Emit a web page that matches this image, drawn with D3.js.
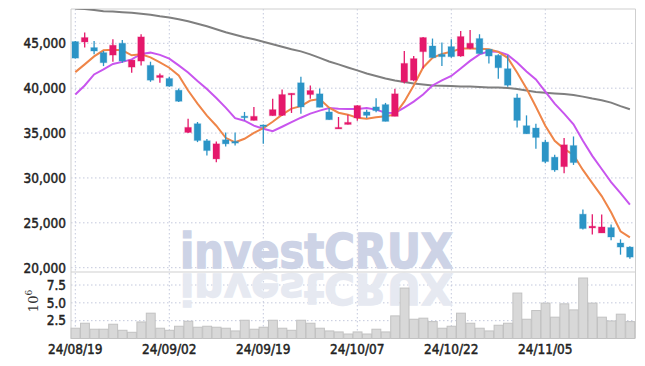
<!DOCTYPE html>
<html>
<head>
<meta charset="utf-8">
<title>investCRUX candles</title>
<script src="https://cdn.jsdelivr.net/npm/d3@7"></script>
<style>
  body { margin: 0; background: #fff; }
  .tick text { font-family: "DejaVu Sans Condensed", sans-serif; font-size: 13.5px; fill: #222; stroke: #222; stroke-width: 0.45px; }
</style>
</head>
<body>
<script>
// trading days (KRX)
var dates = ["24/08/19","24/08/20","24/08/21","24/08/22","24/08/23","24/08/26","24/08/27","24/08/28","24/08/29","24/08/30",
             "24/09/02","24/09/03","24/09/04","24/09/05","24/09/06","24/09/09","24/09/10","24/09/11","24/09/12","24/09/13",
             "24/09/19","24/09/20","24/09/23","24/09/24","24/09/25","24/09/26","24/09/27","24/09/30","24/10/02","24/10/04",
             "24/10/07","24/10/08","24/10/10","24/10/11","24/10/14","24/10/15","24/10/16","24/10/17","24/10/18","24/10/21",
             "24/10/22","24/10/23","24/10/24","24/10/25","24/10/28","24/10/29","24/10/30","24/10/31","24/11/01","24/11/04",
             "24/11/05","24/11/06","24/11/07","24/11/08","24/11/11","24/11/12","24/11/13","24/11/14","24/11/15","24/11/18"];
var tickDates = ["24/08/19","24/09/02","24/09/19","24/10/07","24/10/22","24/11/05"];

var open  = [45190,45150,44520,43960,43690,45000,42350,43020,42540,41190,
             41080,39770,35070,36040,34140,32120,34250,34060,36880,36410,
             35900,36940,36970,39290,40600,39290,39370,37350,35480,35960,
             36680,37350,37910,38170,36860,40710,40890,44070,44700,43770,
             44630,43580,44440,45530,44330,43660,42170,38920,35820,35560,
             33990,32310,31260,33610,25960,24430,23870,24470,22750,22300];
var high  = [45250,46200,45260,44140,45450,45370,43130,46010,42950,41640,
             41270,39960,36600,36230,34330,34060,35070,35070,37350,37910,
             35950,38810,39850,39430,41270,40300,39960,37800,36790,37050,
             38100,37610,38870,38360,39930,44140,43580,45700,45530,45080,
             45450,46380,46490,46010,44330,43770,43660,39370,36970,36040,
             34250,32570,34440,34620,26490,25960,25930,24810,23160,22380];
var low   = [43300,44520,43770,42460,42950,42840,41720,42540,40710,40600,
             40150,38470,35000,33990,32490,31750,33500,33610,36410,36410,
             33800,36940,36900,37240,37160,38810,37870,36490,35480,35960,
             36380,36680,37310,36300,36860,40520,40780,42200,43400,42460,
             43400,43510,44330,43850,42760,41050,40150,35630,34920,33240,
             31640,30700,30520,31450,24250,23690,23870,23050,21450,21000];
var close = [43350,45640,44140,42840,44780,43020,43130,45710,40890,41420,
             40220,38540,35630,34170,33050,33800,33800,33880,36770,36860,
             35740,37610,39290,39430,37910,39740,37870,36490,35630,36190,
             38060,36970,37500,36300,39370,42760,43290,45640,43400,43510,
             43510,45750,45000,43850,43580,42280,40330,36410,34920,34510,
             31820,30890,33690,31710,24360,24620,24540,23420,22300,21180];

// moving averages as drawn
var maShort = [41790,42650,43540,44220,44270,44220,43660,43770,43430,42870,
               42280,41420,39740,38280,36940,35820,34470,33970,34360,35030,
               35540,36260,37050,37720,38000,38620,38780,37830,37270,37050,
               36710,36600,36770,36880,37050,38500,40300,42310,43380,43820,
               44050,44410,44410,44380,44330,44050,43380,41750,39960,37940,
               35820,34140,33240,32570,30890,29430,27980,26180,24060,23380];
var maMid   = [39290,40300,41530,42090,42700,42930,43210,43820,43960,43710,
               43290,42540,41750,40800,39900,38900,37830,36660,36380,35820,
               35480,35200,35700,36210,36710,37160,37500,37780,37720,37690,
               37690,37780,37610,37270,37240,37830,38500,39290,40300,40860,
               41360,42200,43040,43770,44100,44050,43710,42870,41860,40970,
               39620,38280,37160,35980,34140,32460,31000,29540,28310,27020];
var maLong  = [48890,48810,48700,48580,48530,48470,48390,48300,48190,48020,
               47880,47690,47460,47180,46900,46570,46230,45950,45670,45450,
               45170,44890,44610,44330,44100,43770,43380,42980,42650,42310,
               41980,41640,41360,41080,40860,40690,40520,40410,40300,40260,
               40240,40180,40180,40130,40070,40070,40020,39900,39740,39570,
               39480,39400,39340,39250,39060,38840,38650,38390,38000,37660];

// volume, 10^6
var volume = [1.44,2.14,1.30,1.30,2.00,1.15,0.87,2.32,3.55,1.44,
              1.15,1.72,2.42,1.58,1.72,1.58,1.44,1.06,2.56,1.30,
              1.58,2.56,1.44,1.15,2.56,2.14,1.44,1.06,0.92,0.63,
              0.92,0.63,1.30,0.92,3.17,7.07,2.70,2.85,2.37,1.44,
              1.72,3.55,2.14,1.44,1.06,1.86,2.14,6.37,2.70,3.92,
              4.96,2.99,4.86,4.01,8.48,4.96,2.99,2.46,3.41,2.37];

var priceTicks = [20000,25000,30000,35000,40000,45000];
var volTicks = [2.5,5.0,7.5];

var w = 645, h = 366;
var plotLeft = 71, plotRight = 635.5, plotTop = 9, priceBottom = 272, volBottom = 338.5;
var upColor = "#e5186b", downColor = "#2b94c6";
var gridColor = "#c3c8dc", frameColor = "#cfcfcf";

var svg = d3.select("body").append("svg")
    .attr("width", w).attr("height", h);

var x = d3.scaleBand().domain(dates).range([70.6, 634.6]).padding(0);
var bw = x.bandwidth();
function cx(i) { return x(dates[i]) + bw / 2; }

var yP = d3.scaleLinear().domain([20000, 45000]).range([267.7, 43.3]);
var yV = d3.scaleLinear().domain([0, 7.5]).range([volBottom, 285]);

svg.append("clipPath").attr("id", "priceClip")
  .append("rect").attr("x", plotLeft).attr("y", plotTop)
  .attr("width", plotRight - plotLeft).attr("height", priceBottom - plotTop);

// grid
var grid = svg.append("g").attr("stroke", gridColor).attr("stroke-dasharray", "1.5,2.5").attr("stroke-width", 1);
priceTicks.forEach(function(v) {
  grid.append("line").attr("x1", plotLeft).attr("x2", plotRight).attr("y1", yP(v)).attr("y2", yP(v));
});
volTicks.forEach(function(v) {
  grid.append("line").attr("x1", plotLeft).attr("x2", plotRight).attr("y1", yV(v)).attr("y2", yV(v));
});
tickDates.forEach(function(d) {
  var xx = x(d) + bw / 2;
  grid.append("line").attr("x1", xx).attr("x2", xx).attr("y1", plotTop).attr("y2", volBottom);
});

// watermark + reflection
var wm = svg.append("g").attr("font-family", "DejaVu Sans, sans-serif").attr("font-weight", "bold").attr("font-size", 48);
wm.append("text").text("investCRUX")
  .attr("x", 180).attr("y", 268.3)
  .attr("textLength", 273).attr("lengthAdjust", "spacingAndGlyphs")
  .attr("fill", "#cdd3e6").attr("stroke", "#cdd3e6").attr("stroke-width", 1.5);
wm.append("text").text("investCRUX")
  .attr("transform", "translate(0,274) scale(1,-0.9)")
  .attr("x", 180).attr("y", 0)
  .attr("textLength", 273).attr("lengthAdjust", "spacingAndGlyphs")
  .attr("fill", "#e6e9f1").attr("stroke", "#e6e9f1").attr("stroke-width", 1.5);

// frame
svg.append("line").attr("x1", plotLeft).attr("x2", plotRight).attr("y1", plotTop).attr("y2", plotTop).attr("stroke", frameColor);
svg.append("line").attr("x1", plotLeft).attr("x2", plotRight).attr("y1", priceBottom).attr("y2", priceBottom).attr("stroke", frameColor);
svg.append("line").attr("x1", plotLeft).attr("x2", plotLeft).attr("y1", plotTop).attr("y2", volBottom).attr("stroke", frameColor);
svg.append("line").attr("x1", plotRight).attr("x2", plotRight).attr("y1", plotTop).attr("y2", volBottom).attr("stroke", frameColor);

// volume bars
svg.append("g").selectAll("rect").data(volume).enter().append("rect")
  .attr("x", function(d, i) { return x(dates[i]) + 0.5; })
  .attr("y", function(d) { return yV(d); })
  .attr("width", bw - 0.5)
  .attr("height", function(d) { return volBottom - yV(d); })
  .attr("fill", "#d8d8d8")
  .attr("stroke", "#c2c2c2")
  .attr("stroke-width", 1);

// moving averages
var lines = svg.append("g").attr("clip-path", "url(#priceClip)");
var maLine = d3.line().x(function(d, i) { return cx(i); }).y(function(d) { return yP(d); });
[[maLong, "#7f7f7f"], [maMid, "#c855ee"], [maShort, "#ef8548"]].forEach(function(s) {
  lines.append("path").attr("d", maLine(s[0]))
    .attr("fill", "none").attr("stroke", s[1]).attr("stroke-width", 2);
});

// candles
var candles = svg.append("g");
for (var i = 0; i < dates.length; i++) {
  var up = close[i] >= open[i];
  var col = up ? upColor : downColor;
  var c = cx(i);
  candles.append("line")
    .attr("x1", c).attr("x2", c)
    .attr("y1", yP(high[i])).attr("y2", yP(low[i]))
    .attr("stroke", col).attr("stroke-width", 1.3);
  var yt = yP(Math.max(open[i], close[i]));
  var yb = yP(Math.min(open[i], close[i]));
  candles.append("rect")
    .attr("x", c - 3.3).attr("width", 6.6)
    .attr("y", yt).attr("height", Math.max(1.5, yb - yt))
    .attr("fill", col)
    .attr("stroke", col).attr("stroke-opacity", 0.25).attr("stroke-width", 1.2);
}

// axes
var yAxis = d3.axisLeft(yP).tickValues(priceTicks).tickFormat(d3.format(",")).tickSize(0).tickPadding(5);
svg.append("g").attr("transform", "translate(" + plotLeft + ",0)").call(yAxis)
  .call(function(g) { g.select(".domain").remove(); });

var vAxis = d3.axisLeft(yV).tickValues(volTicks).tickFormat(d3.format(".1f")).tickSize(0).tickPadding(5);
svg.append("g").attr("transform", "translate(" + plotLeft + ",0)").call(vAxis)
  .call(function(g) { g.select(".domain").remove(); });

var xAxis = d3.axisBottom(x).tickValues(tickDates).tickSize(0).tickPadding(6);
svg.append("g").attr("transform", "translate(0," + volBottom + ")").call(xAxis)
  .call(function(g) { g.select(".domain").remove(); });

var unit = svg.append("text")
  .attr("transform", "translate(38,301) rotate(-90)")
  .attr("text-anchor", "middle")
  .attr("font-family", "DejaVu Serif, serif")
  .attr("font-size", 13)
  .attr("fill", "#333");
unit.append("tspan").text("10");
unit.append("tspan").text("6").attr("font-size", 9).attr("dy", -6);
</script>
</body>
</html>
